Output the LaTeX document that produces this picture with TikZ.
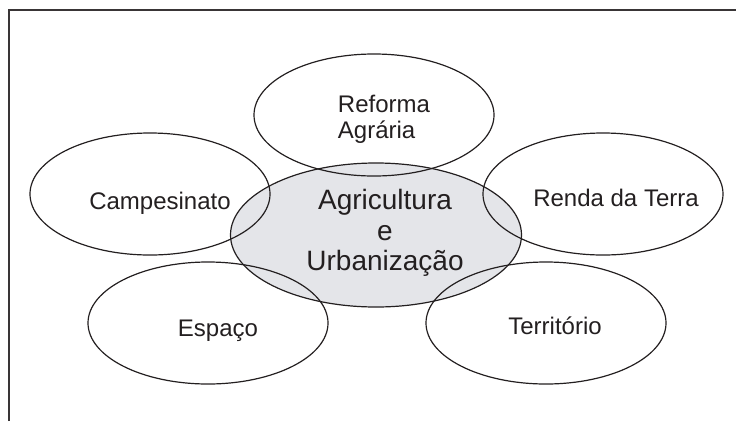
\documentclass[tikz,border=0pt]{standalone}
\usepackage{fontspec}
\setmainfont{Liberation Sans}
\usetikzlibrary{shapes.geometric}
\definecolor{tinta}{HTML}{231F20}
\definecolor{cinza}{HTML}{E4E5E9}
\tikzset{
  tema/.style={draw=tinta, line width=1.2pt, ellipse, inner sep=0pt,
    minimum width=240pt, minimum height=122pt},
  rotulo/.style={text=tinta, font=\fontsize{24}{26}\selectfont, align=left},
}
\begin{document}
\begin{tikzpicture}[x=1pt, y=-1pt]
\useasboundingbox (0,0) rectangle (736,421);
\draw[tinta!90, line width=2pt] (9,421) -- (9,10) -- (736,10);

\node[tema, fill=cinza, minimum width=291pt, minimum height=144pt,
  label={[rotulo, align=center, font=\fontsize{28}{30.5}\selectfont, xshift=9pt, yshift=2pt]center:{Agricultura\\e\\Urbanização}}] (centro) at (376,235) {};

\node[tema, label={[rotulo, xshift=10pt, yshift=-4pt]center:{Reforma\\Agrária}}] (reforma) at (374,115) {};
\node[tema, label={[rotulo, xshift=10pt, yshift=-9pt]center:Campesinato}] (campesinato) at (150,194) {};
\node[tema, label={[rotulo, xshift=13pt, yshift=-4pt]center:Renda da Terra}] (renda) at (603,194) {};
\node[tema, label={[rotulo, xshift=10pt, yshift=-8pt]center:Espaço}] (espaco) at (208,323) {};
\node[tema, label={[rotulo, xshift=9pt, yshift=-3pt]center:Território}] (territorio) at (546,323) {};
\end{tikzpicture}
\end{document}
